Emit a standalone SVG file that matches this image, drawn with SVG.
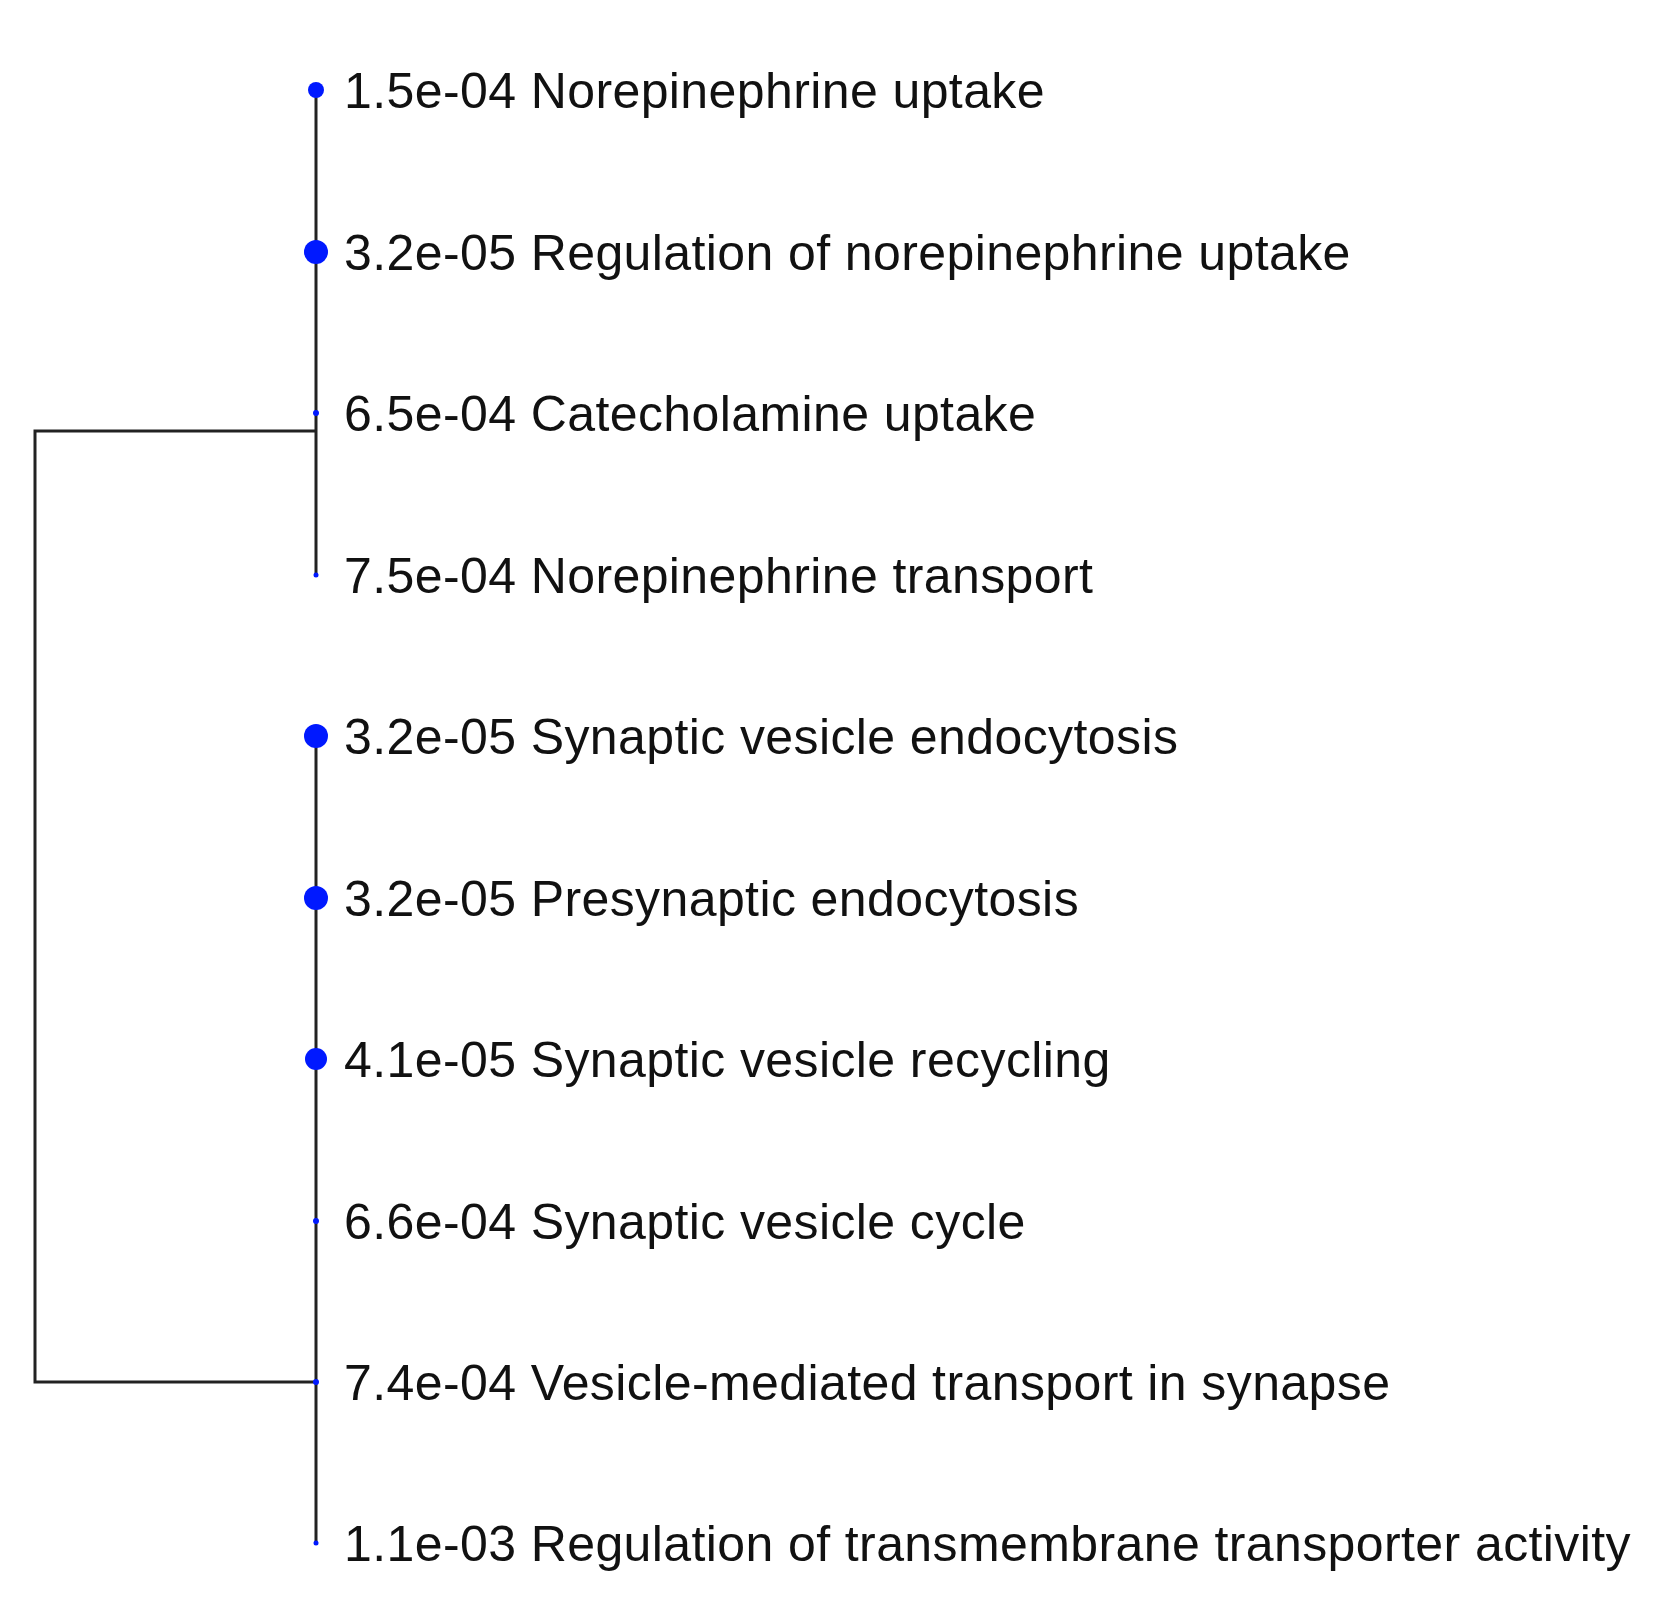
<svg xmlns="http://www.w3.org/2000/svg" width="1661" height="1607" viewBox="0 0 1661 1607">
<style>
.t{font-family:"Liberation Sans",Arial,sans-serif;font-size:50px;letter-spacing:0.4px;fill:#111}
.e{stroke:#222;stroke-width:3;fill:none}
.d{fill:#0019ff}
</style>
<rect width="1661" height="1607" fill="#fff"/>
<g id="connectors">
<path class="e" d="M316 90V574M316 736V1543M316 431H35V1382H316"/>
</g>
<g id="n1"><circle class="d" cx="316" cy="90" r="8"/><text class="t" x="344" y="108">1.5e-04 Norepinephrine uptake</text></g>
<g id="n2"><circle class="d" cx="316" cy="252" r="12"/><text class="t" x="344" y="270">3.2e-05 Regulation of norepinephrine uptake</text></g>
<g id="n3"><circle class="d" cx="316" cy="413" r="3"/><text class="t" x="344" y="431">6.5e-04 Catecholamine uptake</text></g>
<g id="n4"><circle class="d" cx="316" cy="575" r="2.5"/><text class="t" x="344" y="593">7.5e-04 Norepinephrine transport</text></g>
<g id="n5"><circle class="d" cx="316" cy="736" r="12"/><text class="t" x="344" y="754">3.2e-05 Synaptic vesicle endocytosis</text></g>
<g id="n6"><circle class="d" cx="316" cy="898" r="12"/><text class="t" x="344" y="916">3.2e-05 Presynaptic endocytosis</text></g>
<g id="n7"><circle class="d" cx="316" cy="1059" r="11"/><text class="t" x="344" y="1077">4.1e-05 Synaptic vesicle recycling</text></g>
<g id="n8"><circle class="d" cx="316" cy="1221" r="3"/><text class="t" x="344" y="1239">6.6e-04 Synaptic vesicle cycle</text></g>
<g id="n9"><circle class="d" cx="316" cy="1382" r="3"/><text class="t" x="344" y="1400">7.4e-04 Vesicle-mediated transport in synapse</text></g>
<g id="n10"><circle class="d" cx="316" cy="1543" r="2.5"/><text class="t" x="344" y="1561">1.1e-03 Regulation of transmembrane transporter activity</text></g>
</svg>
